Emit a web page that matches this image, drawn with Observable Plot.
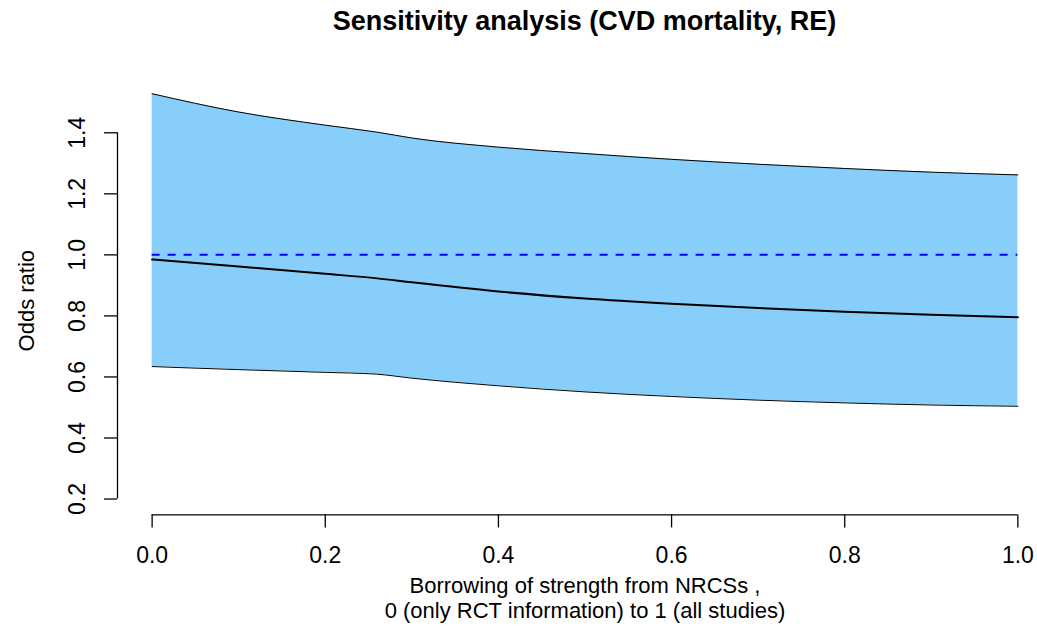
<!DOCTYPE html>
<html>
<head>
<meta charset="utf-8">
<script src="https://cdn.jsdelivr.net/npm/d3@7"></script>
<script src="https://cdn.jsdelivr.net/npm/@observablehq/plot@0.6"></script>
<style>
html, body { margin: 0; padding: 0; background: #fff; }
#title { position: relative; width: 1037px; height: 50px; font: bold 27px "Liberation Sans", Arial, sans-serif; line-height: 27px; color: #000; }
#title span { position: absolute; left: 584.5px; top: 8px; transform: translateX(-50%); white-space: nowrap; }
#chart svg { display: block; }
</style>
</head>
<body>
<div id="title"><span>Sensitivity analysis (CVD mortality, RE)</span></div>
<div id="chart"></div>
<script>
// Data
const borrowing = [0, 0.1, 0.2, 0.26, 0.3, 0.4, 0.5, 0.6, 0.7, 0.8, 0.9, 1.0];
const upper     = [1.528, 1.468, 1.425, 1.402, 1.383, 1.353, 1.332, 1.313, 1.297, 1.283, 1.271, 1.262];
const estimate  = [0.985, 0.962, 0.938, 0.923, 0.910, 0.880, 0.857, 0.840, 0.826, 0.814, 0.804, 0.796];
const lower     = [0.634, 0.624, 0.615, 0.609, 0.596, 0.571, 0.551, 0.536, 0.524, 0.515, 0.508, 0.504];
const xTicks = [0, 0.2, 0.4, 0.6, 0.8, 1.0];
const yTicks = [0.2, 0.4, 0.6, 0.8, 1.0, 1.2, 1.4];
const nullLine = [1];
const xlim = [-0.04, 1.04];
const ylim = [0.148, 1.552];
const xLabel = "Borrowing of strength from NRCSs ,\n0 (only RCT information) to 1 (all studies)";
const yLabel = "Odds ratio";

const data = borrowing.map((x, i) => ({x, lo: lower[i], mid: estimate[i], hi: upper[i]}));
const fmt = d3.format(".1f");

const W = 1037, H = 576;
const frameTop = 35.9, frameBottom = 464.4, frameLeft = 117;

const chart = Plot.plot({
  width: W,
  height: H,
  marginLeft: frameLeft,
  marginRight: 0,
  marginTop: frameTop,
  marginBottom: H - frameBottom,
  x: {domain: xlim, range: [frameLeft, 1052]},
  y: {domain: ylim, range: [frameBottom, frameTop]},
  style: {fontFamily: "'Liberation Sans', Arial, sans-serif", fontSize: "23px", color: "#000", background: "#fff"},
  marks: [
    Plot.areaY(data, {x: "x", y1: "lo", y2: "hi", fill: "#87cefa", fillOpacity: 1, curve: "monotone-x"}),
    Plot.lineY(data, {x: "x", y: "hi", stroke: "#000", strokeWidth: 1, curve: "monotone-x"}),
    Plot.lineY(data, {x: "x", y: "lo", stroke: "#000", strokeWidth: 1, curve: "monotone-x"}),
    Plot.lineY(data, {x: "x", y: "mid", stroke: "#000", strokeWidth: 2, curve: "monotone-x"}),
    Plot.ruleY(nullLine, {x1: xTicks[0], x2: xTicks[xTicks.length - 1], stroke: "#0000ff", strokeWidth: 2, strokeDasharray: "8,8"}),
    Plot.ruleX([xlim[0]], {y1: yTicks[0], y2: yTicks[yTicks.length - 1], stroke: "#000", strokeWidth: 1.3}),
    Plot.ruleY([ylim[0]], {x1: xTicks[0], x2: xTicks[xTicks.length - 1], stroke: "#000", strokeWidth: 1.3}),
    Plot.axisX({ticks: xTicks, tickSize: 13, tickPadding: 19, tickFormat: fmt, label: null, strokeWidth: 1.3, fontSize: 23}),
    Plot.axisY({ticks: yTicks, tickSize: 13, tickPadding: 20, tickRotate: -90, tickFormat: fmt, label: null, strokeWidth: 1.3, fontSize: 23}),
    Plot.text([yLabel], {frameAnchor: "left", dx: -84, rotate: -90, textAnchor: "middle", lineAnchor: "bottom", fontSize: 22}),
    Plot.text([xLabel], {frameAnchor: "bottom", dx: 7.5, dy: 60, textAnchor: "middle", lineAnchor: "top", lineHeight: 1.15, fontSize: 22})
  ]
});
document.getElementById("chart").appendChild(chart);
</script>
</body>
</html>
